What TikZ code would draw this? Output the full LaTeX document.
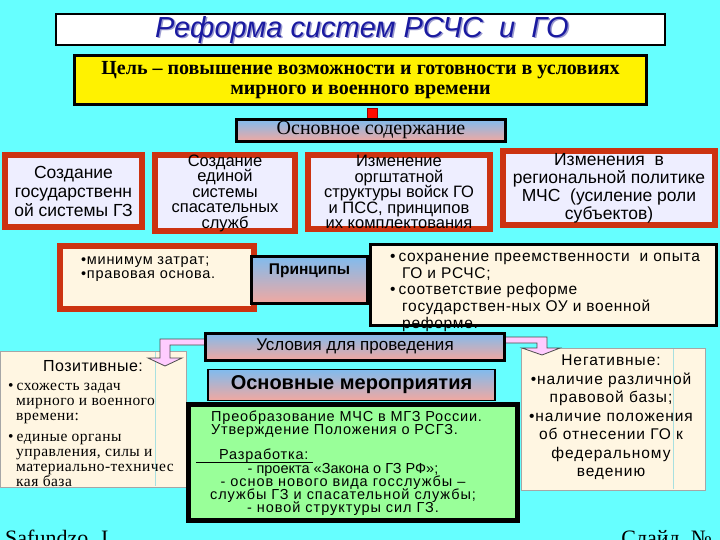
\documentclass[tikz,border=0pt]{standalone}
\usepackage{fontspec}
\setmainfont{Liberation Serif}
\setsansfont{Liberation Sans}
\usetikzlibrary{calc}
\definecolor{bg}{HTML}{66FFFF}
\definecolor{lav}{HTML}{EEEEFF}
\definecolor{brd}{HTML}{CC3311}
\definecolor{cream}{HTML}{FFF6E2}
\definecolor{gtop}{HTML}{80BBEE}
\definecolor{gbot}{HTML}{F2A8A0}
\definecolor{grn}{HTML}{99FF99}
\definecolor{ttl}{HTML}{1A1AA0}
\definecolor{ttlsh}{HTML}{9A9AD0}
\definecolor{pinkar}{HTML}{FFCCFF}
\definecolor{vline}{HTML}{A8E0E0}
\tikzset{
  redbox/.style={draw=brd, line width=6pt, fill=lav, inner sep=0pt, align=center,
    font=\sffamily\fontsize{17.5}{19}\selectfont},
  gradbox/.style={draw=black, line width=3pt, top color=gtop, bottom color=gbot,
    inner sep=0pt, align=center},
  creambox/.style={draw=gray!70, line width=0.6pt, fill=cream, inner sep=0pt},
  txt/.style={inner sep=0pt, align=left},
  pinkarrow/.style={fill=pinkar, draw=black!70, line width=0.8pt},
}
\begin{document}
\lineskiplimit=-100pt
\begin{tikzpicture}[x=1pt,y=-1pt]
\useasboundingbox (0,0) rectangle (720,540);
\fill[bg] (0,0) rectangle (720,540);

% title
\node[draw=black, line width=2pt, fill=white, minimum width=609pt, minimum height=31pt, inner sep=0pt] (title) at (360.5,29.5) {};
\node[inner sep=0pt, text=ttlsh, font=\sffamily\itshape\fontsize{29}{30}\selectfont] (titlesh) at (363.5,31.5) {Реформа систем РСЧС\ \ и\ \ ГО};
\node[inner sep=0pt, text=ttl, font=\sffamily\itshape\fontsize{29}{30}\selectfont] (titletext) at (362,30) {Реформа систем РСЧС\ \ и\ \ ГО};

% goal
\node[draw=black, line width=3pt, fill=yellow, minimum width=572pt, minimum height=49pt, inner sep=0pt, align=center,
  font=\bfseries\fontsize{20}{20}\selectfont] (goal) at (360.5,80)
  {Цель – повышение возможности и готовности в условиях\\мирного и военного времени};

% connector square
\node[fill=red!90!orange, draw=red!60!black, line width=0.4pt, minimum width=10pt, minimum height=10pt, inner sep=0pt] (sq) at (372,113) {};

\node[gradbox, minimum width=269pt, minimum height=22pt, font=\fontsize{20}{20}\selectfont] (content) at (371,130.5) {Основное содержание};

% four boxes
\node[redbox, minimum width=137pt, minimum height=72pt] (b1) at (73.5,191)
  {Создание\\государственн\\ой системы ГЗ};
\node[redbox, minimum width=140pt, minimum height=76pt, font=\sffamily\fontsize{16.5}{15.5}\selectfont] (b2) at (225,193)
  {Создание\\единой\\системы\\спасательных\\служб};
\node[redbox, minimum width=182pt, minimum height=74pt, font=\sffamily\fontsize{16.5}{15.5}\selectfont] (b3) at (399,192)
  {Изменение\\оргштатной\\структуры войск ГО\\и ПСС, принципов\\их комплектования};
\node[redbox, minimum width=212pt, minimum height=74pt, font=\sffamily\fontsize{17.5}{18}\selectfont] (b4) at (609,188)
  {Изменения\ \ в\\региональной политике\\МЧС\ \ (усиление роли\\субъектов)};

% principles
\node[draw=brd, line width=6pt, fill=cream, minimum width=194pt, minimum height=63pt, inner sep=0pt] (pleft) at (157,277.5) {};
\node[txt, anchor=west, font=\sffamily\fontsize{14.5}{13.5}\selectfont\addfontfeatures{LetterSpace=5}] (pleftt) at (81,269) {•минимум затрат;\\•правовая основа.};

\fill[cream] (370.5,244.5) rectangle (716.5,325.5);
\node[txt, anchor=north west, font=\sffamily\fontsize{15.5}{16.7}\selectfont\addfontfeatures{LetterSpace=4.5}] (prightt) at (390,253)
  {•\hspace{3pt}сохранение преемственности\ \ и опыта\\\hspace*{12pt}ГО и РСЧС;\\•\hspace{3pt}соответствие реформе\\\hspace*{12pt}государствен-ных ОУ и военной\\\hspace*{12pt}реформе.};
\node[draw=black, line width=3pt, minimum width=346pt, minimum height=81pt, inner sep=0pt] (pright) at (543.5,285) {};
\node[gradbox, minimum width=116pt, minimum height=47pt, font=\sffamily\bfseries\fontsize{15.5}{18}\selectfont] (pmid) at (309.5,280) {Принципы\\[3pt]};

% positive
\node[creambox, minimum width=186pt, minimum height=136pt] (pos) at (93,419) {};
\draw[vline, line width=0.8pt] (155,352) -- (155,486);
\node[inner sep=0pt, font=\sffamily\fontsize{16}{16}\selectfont\addfontfeatures{LetterSpace=3}] (posh) at (93,366) {Позитивные:};
\node[txt, anchor=north west, font=\fontsize{15.5}{15}\selectfont\addfontfeatures{LetterSpace=3}] (post) at (8,383)
  {•\hspace{3pt}схожесть задач\\\hspace*{8pt}мирного и военного\\\hspace*{8pt}времени:\\[6pt]•\hspace{3pt}единые органы\\\hspace*{8pt}управления, силы и\\\hspace*{8pt}материально-техничес\\\hspace*{8pt}кая база};

% negative
\node[creambox, minimum width=184pt, minimum height=142pt] (neg) at (613,419) {};
\draw[vline, line width=0.8pt] (673,349) -- (673,489);
\node[inner sep=0pt, align=center, anchor=north, font=\sffamily\fontsize{15.5}{18.5}\selectfont\addfontfeatures{LetterSpace=6}] (negt) at (611,355)
  {Негативные:\\•наличие различной\\правовой базы;\\•наличие положения\\об отнесении ГО к\\федеральному\\ведению};

% conditions arrows (drawn over the side boxes, under the conditions box)
\coordinate (la) at (204,342);
\coordinate (ra) at (506,340);
\draw[pinkarrow] ($(la)+(12,-3)$) -- (160,339) -- (160,358) -- (148,358) -- (165,366) -- (182,358) -- (170,358) -- (170,345) -- ($(la)+(12,3)$) -- cycle;
\draw[pinkarrow] ($(ra)+(-12,-3)$) -- (547,337) -- (547,348) -- (560,348) -- (542,355) -- (522,348) -- (537,348) -- (537,343) -- ($(ra)+(-12,3)$) -- cycle;

\node[gradbox, minimum width=299pt, minimum height=27pt, font=\sffamily\fontsize{17}{18}\selectfont] (cond) at (355,346.5) {Условия для проведения};

% main measures
\node[draw=black, line width=1.5pt, top color=gtop, bottom color=gbot, minimum width=287pt, minimum height=31pt, inner sep=0pt,
  font=\sffamily\bfseries\fontsize{20}{20}\selectfont] (meas) at (351.5,385) {Основные мероприятия};

\node[draw=black, line width=5pt, fill=grn, minimum width=329pt, minimum height=116pt, inner sep=0pt] (green) at (353,462.5) {};
\node[txt, anchor=north west, font=\sffamily\fontsize{14.5}{13}\selectfont\addfontfeatures{LetterSpace=5.5}] (g1) at (211,411)
  {Преобразование МЧС в МГЗ России.\\Утверждение Положения о РСГЗ.};
\node[txt, anchor=west, font=\sffamily\fontsize{14.5}{13}\selectfont\addfontfeatures{LetterSpace=5.5}] (g2) at (219,455.5) {Разработка:};
\draw[black, line width=0.8pt] (196,462) -- (313,462);
\node[inner sep=0pt, align=center, anchor=north, font=\sffamily\fontsize{14.5}{13}\selectfont\addfontfeatures{LetterSpace=6.5}] (g3) at (343,463)
  {{\addfontfeatures{LetterSpace=0}\fontsize{14.5}{13}\selectfont - проекта «Закона о ГЗ РФ»;}\\- основ нового вида госслужбы –\\службы ГЗ и спасательной службы;\\- новой структуры сил ГЗ.};

% footer
\node[inner sep=0pt, anchor=base west, font=\fontsize{22}{24}\selectfont] (foot1) at (5,545) {Safundzo. I};
\node[inner sep=0pt, anchor=base east, font=\fontsize{22}{24}\selectfont] (foot2) at (712,545) {Слайд\ \ №};
\end{tikzpicture}
\end{document}
